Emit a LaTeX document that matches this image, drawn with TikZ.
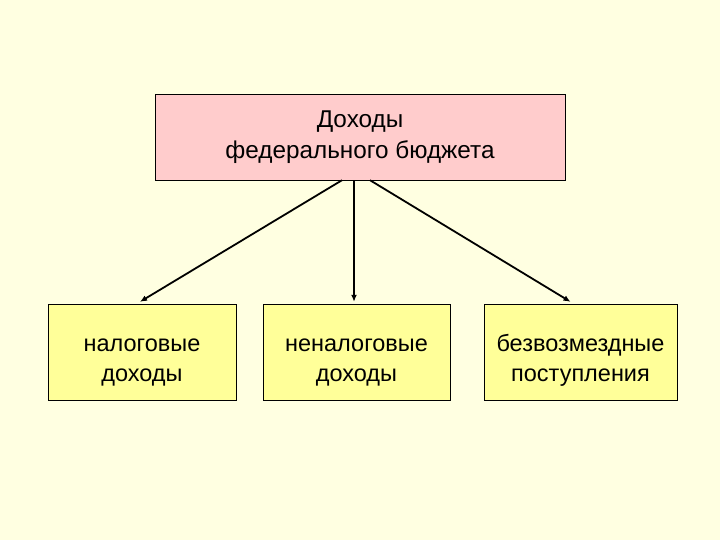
\documentclass[tikz,border=0pt]{standalone}
\usepackage{fontspec}
\setmainfont{Liberation Sans}
\usepackage{xcolor}
\usetikzlibrary{arrows.meta,positioning}
\definecolor{bgyellow}{HTML}{FFFFE1}
\definecolor{headpink}{HTML}{FFCCCC}
\definecolor{itemyellow}{HTML}{FFFF99}
\tikzset{
  head/.style={draw=black, fill=headpink, align=center, inner sep=4pt,
    font=\fontsize{24.3}{31}\selectfont, minimum width=410pt, minimum height=86pt},
  item/.style={draw=black, fill=itemyellow, align=center, inner sep=2pt,
    font=\fontsize{23.5}{30}\selectfont, minimum height=96pt, text height=63pt},
  arr/.style={-{Latex[length=7pt,width=6pt]}, line width=1.8pt, draw=black}
}
\begin{document}
\begin{tikzpicture}[x=1pt, y=-1pt]
\useasboundingbox[fill=bgyellow] (0,0) rectangle (720,540);
\node[head] (top) at (360,137) {Доходы\\федерального бюджета};
\node[item, minimum width=188pt] (nal) at (142,352) {налоговые\\доходы};
\node[item, minimum width=187pt] (nenal) at (356.5,352) {неналоговые\\доходы};
\node[item, minimum width=193pt] (bez) at (580.5,352) {безвозмездные\\поступления};

\draw[arr] ([xshift=-18pt]top.south) -- ([xshift=-2pt,yshift=2pt]nal.north);
\draw[arr] ([xshift=-6pt]top.south) -- ([xshift=-2.5pt,yshift=2pt]nenal.north);
\draw[arr] ([xshift=10pt]top.south) -- ([xshift=-10pt,yshift=2pt]bez.north);
\end{tikzpicture}
\end{document}
